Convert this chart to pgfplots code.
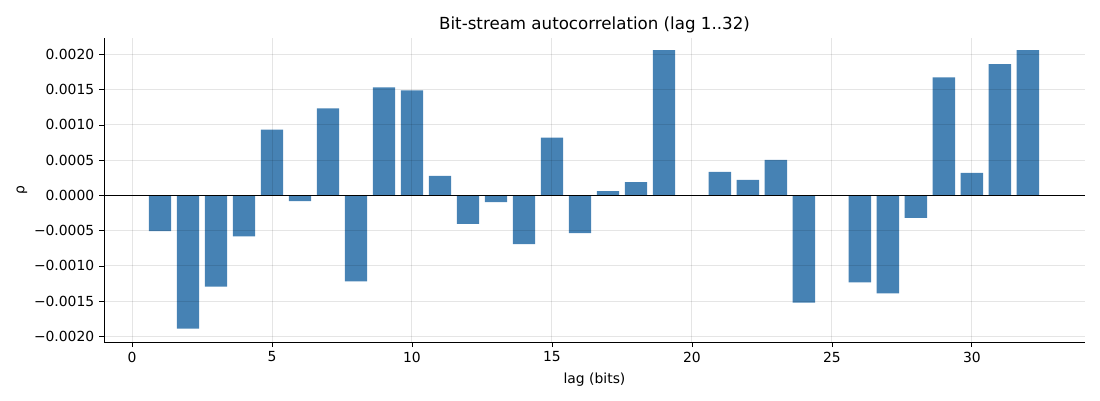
\documentclass[border=0pt]{standalone}
\usepackage{pgfplots}
\pgfplotsset{compat=1.18}
\usepackage{fontspec}
\setmainfont{DejaVu Sans}
\definecolor{steel}{HTML}{4682B4}
\begin{document}
\begin{tikzpicture}
\begin{axis}[
  width=706.3pt, height=218.9pt, scale only axis,
  xmin=-1.0, xmax=34.04, ymin=-0.00208, ymax=0.002232,
  axis x line*=bottom, axis y line*=left,
  axis line style={-, line width=0.6pt, black},
  tick align=outside, major tick length=3.5pt,
  tick style={black, line width=0.6pt},
  xtick={0,5,10,15,20,25,30},
  ytick={-0.002,-0.0015,-0.001,-0.0005,0,0.0005,0.001,0.0015,0.002},
  yticklabels={−0.0020,−0.0015,−0.0010,−0.0005,0.0000,0.0005,0.0010,0.0015,0.0020},
  scaled y ticks=false,
  /pgf/number format/assume math mode=true,
  ticklabel style={font=\fontsize{10}{12}\selectfont},
  grid=major,
  grid style={black, opacity=0.1, line width=0.7pt},
  axis on top,
  title={Bit-stream autocorrelation (lag 1..32)},
  title style={font=\fontsize{12}{14}\selectfont, at={(axis description cs:0.5,1)}, anchor=base, yshift=0.5pt},
  xlabel={lag (bits)},
  xlabel style={font=\fontsize{10}{12}\selectfont, at={(axis description cs:0.5,0)}, anchor=base, yshift=-29.5pt},
  ylabel={ρ},
  ylabel style={font=\fontsize{10}{12}\selectfont, at={(axis description cs:-0.0836,0.5)}, anchor=center},
  ybar, bar width=0.8, bar shift=0pt,
]
\addplot[fill=steel, draw=none] coordinates {
(1,-0.000505) (2,-0.00189) (3,-0.001295) (4,-0.000581) (5,0.000933)
(6,-0.000081) (7,0.001233) (8,-0.001219) (9,0.001533) (10,0.00149)
(11,0.000276) (12,-0.000405) (13,-0.000095) (14,-0.00069) (15,0.000819)
(16,-0.000533) (17,0.000062) (18,0.00019) (19,0.002062) (20,0)
(21,0.000333) (22,0.000219) (23,0.000505) (24,-0.001519) (25,0)
(26,-0.001233) (27,-0.00139) (28,-0.000319) (29,0.001676) (30,0.000319)
(31,0.001862) (32,0.002062)
};
\addplot[sharp plot, black, line width=0.6pt] coordinates {(-1.0,0) (34.04,0)};
\coordinate (SW) at (rel axis cs:0,0);
\coordinate (NE) at (rel axis cs:1,1);
\end{axis}
\pgfresetboundingbox
\path ([shift={(-74.9pt,-41.8pt)}]SW) rectangle ([shift={(10.8pt,27.4pt)}]NE);
\end{tikzpicture}
\end{document}
